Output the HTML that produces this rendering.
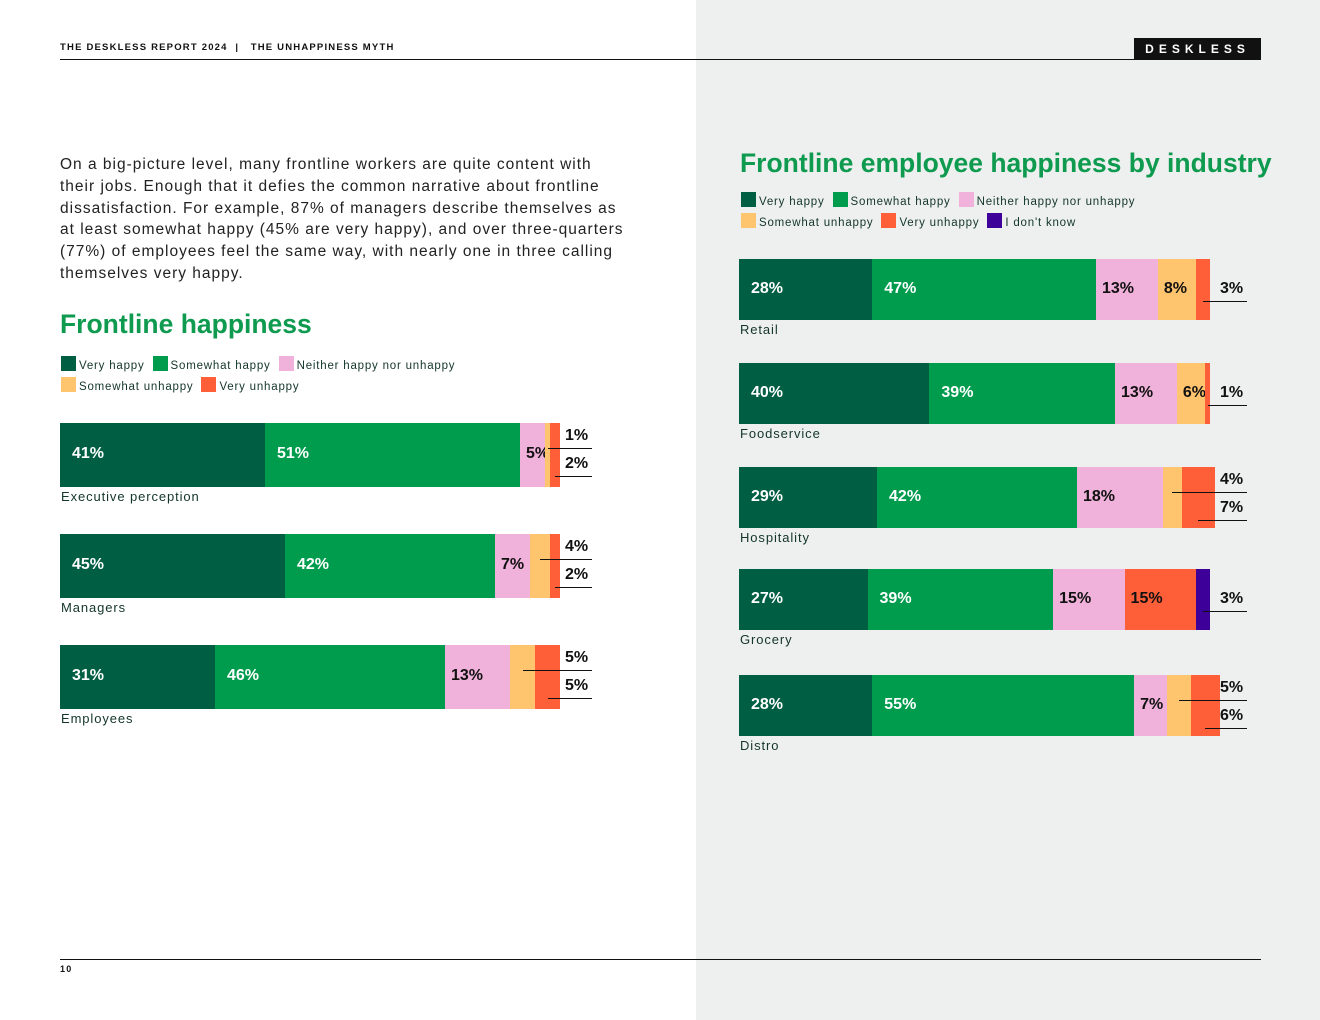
<!DOCTYPE html>
<html><head><meta charset="utf-8">
<style>
body{margin:0;width:1320px;height:1020px;position:relative;background:#fff;font-family:"Liberation Sans",sans-serif;overflow:hidden;color:#13352a}
.abs{position:absolute}
.rp{left:696px;top:0;width:624px;height:1020px;background:#eef0ef}
.hdr{font-size:9.5px;font-weight:bold;letter-spacing:1.2px;color:#111}
.para{left:60px;top:154px;width:566px;font-size:15.5px;line-height:21.8px;letter-spacing:1px;color:#222}
.title{color:#0e9a4f;font-weight:bold;font-size:26.5px}
.leg{font-size:11.5px;color:#13352a;letter-spacing:0.8px}
.sw{display:inline-block;width:15px;height:15px;vertical-align:-2px;margin-right:3px}
.lab{font-size:13px;letter-spacing:0.9px;color:#13352a;white-space:nowrap}
</style></head><body>
<div class="abs rp"></div>
<div class="abs hdr" style="left:60px;top:42px">THE DESKLESS REPORT 2024 &nbsp;| &nbsp; THE UNHAPPINESS MYTH</div>
<div class="abs" style="left:60px;top:59px;width:1201px;height:1px;background:#111"></div>
<div class="abs" style="left:1134px;top:38px;width:127px;height:22px;background:#111;color:#fff;font-size:12px;font-weight:bold;letter-spacing:5px;text-align:center;line-height:22px">DESKLESS</div>
<div class="abs para">On a big-picture level, many frontline workers are quite content with their jobs. Enough that it defies the common narrative about frontline dissatisfaction. For example, 87% of managers describe themselves as at least somewhat happy (45% are very happy), and over three-quarters (77%) of employees feel the same way, with nearly one in three calling themselves very happy.</div>
<div class="abs title" style="left:60px;top:309px">Frontline happiness</div>
<div class="abs leg" style="left:61px;top:356px">
<span class="sw" style="background:#005e42"></span>Very happy &nbsp;<span class="sw" style="background:#009c4e"></span>Somewhat happy &nbsp;<span class="sw" style="background:#f0b1da"></span>Neither happy nor unhappy<br>
<div style="height:5px"></div><span class="sw" style="background:#ffc56e"></span>Somewhat unhappy &nbsp;<span class="sw" style="background:#ff5f38"></span>Very unhappy</div>
<div class="abs title" style="left:740px;top:148px">Frontline employee happiness by industry</div>
<div class="abs leg" style="left:741px;top:192px">
<span class="sw" style="background:#005e42"></span>Very happy &nbsp;<span class="sw" style="background:#009c4e"></span>Somewhat happy &nbsp;<span class="sw" style="background:#f0b1da"></span>Neither happy nor unhappy<br>
<div style="height:5px"></div><span class="sw" style="background:#ffc56e"></span>Somewhat unhappy &nbsp;<span class="sw" style="background:#ff5f38"></span>Very unhappy &nbsp;<span class="sw" style="background:#3d0099"></span>I don't know</div>
<div class="abs" style="left:60px;top:959px;width:1201px;height:1px;background:#111"></div>
<div class="abs hdr" style="left:60px;top:964px;font-size:9px">10</div>
<div id="left" class="abs" style="left:0;top:0"></div>
<div id="right" class="abs" style="left:0;top:0"></div>
<script>
const colors=["#005e42","#009c4e","#f0b1da","#ffc56e","#ff5f38","#3d0099"];
const textColors=["#fff","#fff","#111","#111","#111","#111"];
const leftCats=["Executive perception","Managers","Employees"];
const leftVeryHappy=[41,45,31];
const leftSomewhatHappy=[51,42,46];
const leftNeither=[5,7,13];
const leftSomewhatUnhappy=[1,4,5];
const leftVeryUnhappy=[2,2,5];
const rightCats=["Retail","Foodservice","Hospitality","Grocery","Distro"];
const rightVeryHappy=[28,40,29,27,28];
const rightSomewhatHappy=[47,39,42,39,55];
const rightNeither=[13,13,18,15,7];
const rightSomewhatUnhappy=[8,6,4,0,5];
const rightVeryUnhappy=[3,1,7,15,6];
const rightDontKnow=[0,0,0,3,0];

function draw(container,cats,series,x0,scale,tops,h,inside){
  const c=document.getElementById(container);
  cats.forEach((cat,i)=>{
    let x=x0;const top=tops[i];const vals=series.map(s=>s[i]);
    const outside=[];
    vals.forEach((v,k)=>{
      if(!v) return;
      const w=v*scale;
      const d=document.createElement('div');
      
      
      d.className='abs';
      d.style.cssText=`left:${x}px;top:${top}px;width:${w}px;height:${h}px;background:${colors[k]}`;
      c.appendChild(d);
      if(v>=inside(k)){
        const t=document.createElement('div');
        
        
        t.className='abs';
        t.textContent=v+'%';
        t.style.cssText=`left:${x+(k<2?12:6)}px;top:${top+h/2-10}px;font-size:16px;font-weight:bold;color:${textColors[k]}`;
        c.appendChild(t);
      } else outside.push([x+w/2,v]);
      x+=w;
    });
    const end=x0+100*scale;
    const ys=outside.length==1?[top+h/2-10]:[top+4,top+32];
    outside.forEach((o,j)=>{
      const y=ys[j];
      const l=document.createElement('div');
      
      
      l.className='abs';
      l.style.cssText=`left:${o[0]}px;top:${y+21}px;width:${end+32-o[0]}px;height:1px;background:#111`;
      c.appendChild(l);
      const t=document.createElement('div');
      
      
      t.className='abs';
      t.textContent=o[1]+'%';
      t.style.cssText=`left:${end+5}px;top:${y}px;font-size:16px;font-weight:bold;color:#111`;
      c.appendChild(t);
    });
    const lb=document.createElement('div');
    
    
    lb.className='abs lab';
    lb.textContent=cat;
    lb.style.cssText+=`;left:${x0+1}px;top:${top+h+2}px`;
    c.appendChild(lb);
  });
}
draw('left',leftCats,[leftVeryHappy,leftSomewhatHappy,leftNeither,leftSomewhatUnhappy,leftVeryUnhappy],60,5.0,[423,534,645],64,k=>k<3?5:99);
draw('right',rightCats,[rightVeryHappy,rightSomewhatHappy,rightNeither,rightSomewhatUnhappy,rightVeryUnhappy,rightDontKnow],739,4.76,[259,363,467,569,675],61,k=>k<3?5:(k==3?6:(k==4?8:99)));
</script>
</body></html>
